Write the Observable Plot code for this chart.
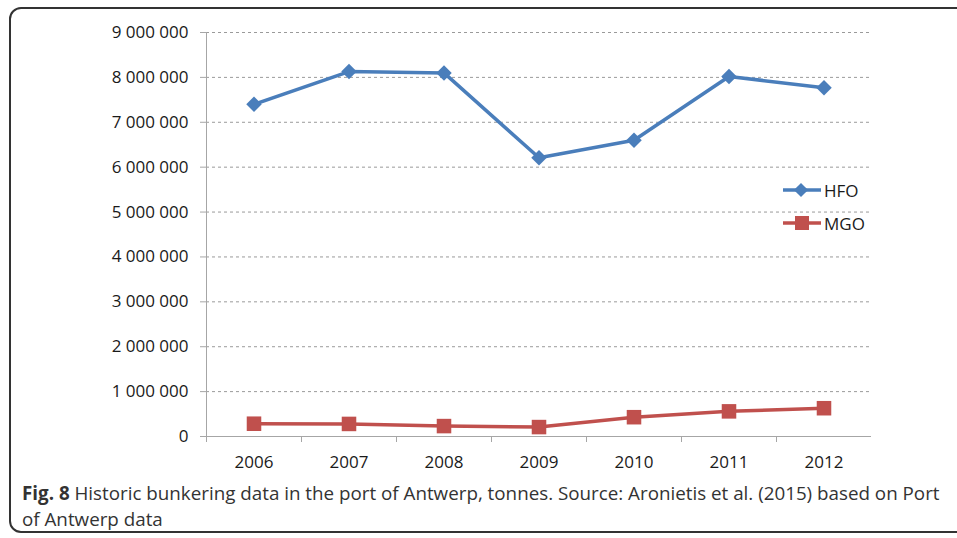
<!DOCTYPE html>
<html>
<head>
<meta charset="utf-8">
<script src="https://cdn.jsdelivr.net/npm/d3@7"></script>
<script src="https://cdn.jsdelivr.net/npm/@observablehq/plot@0.6"></script>
<style>
  html, body { margin: 0; padding: 0; background: #fff; overflow: hidden; }
  body { width: 957px; height: 538px; position: relative; font-family: "Open Sans", sans-serif; }
  #frame { position: absolute; left: 9px; top: 7px; width: 970px; height: 526px; border: 2px solid #333; border-radius: 12px; box-sizing: border-box; }
  #chart { position: absolute; left: 0; top: 0; }
  #legend { position: absolute; left: 782px; top: 178px; font-size: 17px; color: #1a1a1a; }
  .leg { display: flex; align-items: center; height: 24px; margin-bottom: 9px; }
  .leg svg { margin-right: 2px; }
  #caption { position: absolute; left: 22px; top: 480px; font-size: 18.8px; line-height: 26px; color: #333; white-space: nowrap; }
</style>
</head>
<body>
<div id="frame"></div>
<div id="chart"></div>
<div id="legend"></div>
<div id="caption"><b>Fig. 8</b> Historic bunkering data in the port of Antwerp, tonnes. Source: Aronietis et al. (2015) based on Port<br>of Antwerp data</div>
<script>
const years = [2006, 2007, 2008, 2009, 2010, 2011, 2012];
const hfo = [7400000, 8130000, 8100000, 6210000, 6600000, 8020000, 7770000];
const mgo = [285000, 280000, 232000, 210000, 430000, 560000, 630000];
const yTicks = [0, 1000000, 2000000, 3000000, 4000000, 5000000, 6000000, 7000000, 8000000, 9000000];
const seriesNames = ["HFO", "MGO"];
const colors = ["#4a7ebb", "#c0504d"];

const hfoData = years.map((y, i) => ({year: y, value: hfo[i]}));
const mgoData = years.map((y, i) => ({year: y, value: mgo[i]}));
const bounds = years.map(y => y - 0.5);
const fmt = d => d3.format(",")(d).replace(/,/g, " ");

const axisColor = "#a6a6a6";
const chart = Plot.plot({
  width: 957,
  height: 475,
  marginLeft: 206,
  marginRight: 86,
  marginTop: 32,
  marginBottom: 39,
  style: {fontFamily: "'Open Sans', sans-serif", fontSize: "17px", color: "#1a1a1a", background: "transparent"},
  x: {type: "linear", domain: [years[0] - 0.5, years[years.length - 1] + 0.5], axis: null},
  y: {domain: [0, 9000000], axis: null},
  marks: [
    Plot.gridY(yTicks.filter(d => d > 0), {stroke: "#9a9a9a", strokeOpacity: 1, strokeDasharray: "3,3"}),
    Plot.axisY({ticks: yTicks, tickSize: 6, tickPadding: 12, tickFormat: fmt, stroke: axisColor, fill: "#1a1a1a", label: null, fontSize: 17}),
    Plot.ruleX([bounds[0]], {y1: 0, y2: 9000000, stroke: axisColor}),
    Plot.ruleY([0], {stroke: axisColor}),
    Plot.axisX({ticks: bounds, tickSize: 6, tickFormat: () => "", stroke: axisColor, label: null}),
    Plot.axisX({ticks: years, tickSize: 0, tickPadding: 19, tickFormat: d => String(d), fill: "#1a1a1a", label: null, fontSize: 17}),
    Plot.line(hfoData, {x: "year", y: "value", stroke: colors[0], strokeWidth: 3.5}),
    Plot.dot(hfoData, {x: "year", y: "value", symbol: "square", rotate: 45, r: 6.2, fill: colors[0], stroke: "none"}),
    Plot.line(mgoData, {x: "year", y: "value", stroke: colors[1], strokeWidth: 3.5}),
    Plot.dot(mgoData, {x: "year", y: "value", symbol: "square", r: 8.2, fill: colors[1], stroke: "none"})
  ]
});
document.getElementById("chart").appendChild(chart);

// Legend
const legend = document.getElementById("legend");
seriesNames.forEach((name, i) => {
  const row = document.createElement("div");
  row.className = "leg";
  const marker = i === 0
    ? `<rect x="14" y="7" width="10" height="10" fill="${colors[i]}" transform="rotate(45 19 12)"/>`
    : `<rect x="13" y="5" width="14" height="14" fill="${colors[i]}"/>`;
  row.innerHTML = `<svg width="40" height="24"><line x1="1" x2="39" y1="12" y2="12" stroke="${colors[i]}" stroke-width="3.5"/>${marker}</svg><span>${name}</span>`;
  legend.appendChild(row);
});
</script>
</body>
</html>
